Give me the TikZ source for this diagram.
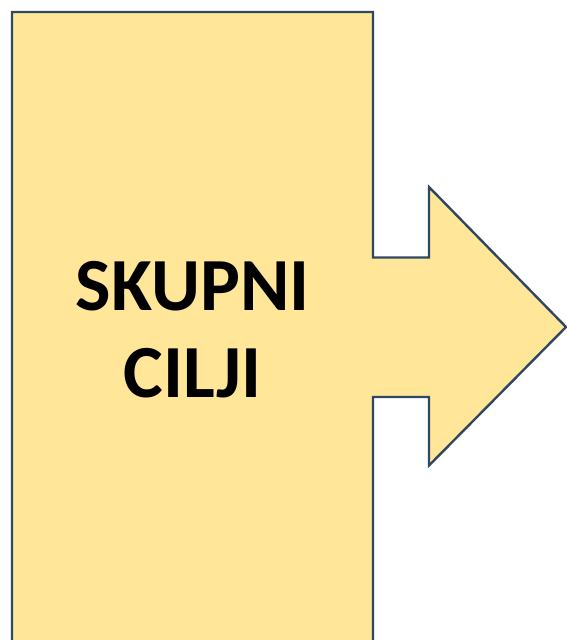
\documentclass[tikz,border=0pt]{standalone}
\usepackage{fontspec}
\setmainfont{Carlito}
\definecolor{boxfill}{HTML}{FFE699}
\definecolor{boxline}{HTML}{2E4862}
\begin{document}
\begin{tikzpicture}[x=1pt,y=-1pt,
  shapestyle/.style={fill=boxfill,draw=boxline,line width=2.4pt,line join=miter},
  labelstyle/.style={font=\fontsize{75}{87}\selectfont\bfseries,align=center,text=black,inner sep=0pt}]
\path[use as bounding box] (0,0) rectangle (567,640);
\clip (0,0) rectangle (567,640);
\draw[shapestyle] (12,12) -- (373,12) -- (373,257.5) -- (429,257.5) -- (429,187)
  -- (566,327) -- (429,465.5) -- (429,397) -- (373,397) -- (373,650) -- (12,650) -- cycle;
\node[labelstyle] (t) at (192.5,330) {SKUPNI\\CILJI};
\end{tikzpicture}
\end{document}
